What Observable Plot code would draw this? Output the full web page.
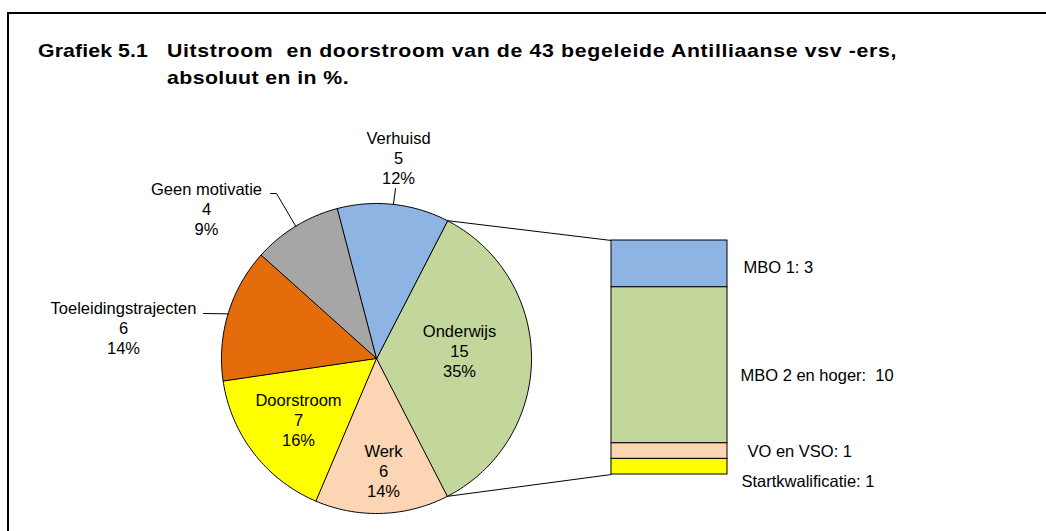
<!DOCTYPE html>
<html><head><meta charset="utf-8">
<script src="https://cdn.jsdelivr.net/npm/d3@7"></script>
<script src="https://cdn.jsdelivr.net/npm/@observablehq/plot@0.6"></script>
<style>
html,body{margin:0;padding:0;background:#fff;}
#wrap{position:relative;width:1046px;height:531px;overflow:hidden;font-family:"Liberation Sans",Arial,sans-serif;}
#frame{position:absolute;left:7px;top:12px;right:-10px;bottom:-10px;border-top:2px solid #000;border-left:2px solid #000;}
.t{position:absolute;font-weight:bold;font-size:19px;line-height:19px;white-space:pre;color:#000;z-index:2;transform-origin:0 0;}
#chart{position:absolute;left:0;top:0;z-index:1;}
#chart svg text{white-space:pre;}
</style></head><body>
<div id="wrap"><div id="frame"></div>
<div class="t" id="t1a" style="left:38px;top:41px">Grafiek 5.1</div>
<div class="t" id="t1b" style="left:167px;top:41px">Uitstroom  en doorstroom van de 43 begeleide Antilliaanse vsv -ers,</div>
<div class="t" id="t2" style="left:167px;top:68px">absoluut en in %.</div>
<div id="chart"></div></div>
<script>
// ---- data ----
const categories = ["Onderwijs", "Werk", "Doorstroom", "Toeleidingstrajecten", "Geen motivatie", "Verhuisd"];
const counts = [15, 6, 7, 6, 4, 5];
const sliceColors = ["#C3D69B", "#FCD5B5", "#FFFF00", "#E46C0A", "#A6A6A6", "#8EB4E3"];
const subCategories = ["MBO 1", "MBO 2 en hoger", "VO en VSO", "Startkwalificatie"];
const subCounts = [3, 10, 1, 1];
const subColors = ["#8EB4E3", "#C3D69B", "#FCD5B5", "#FFFF00"];
const subSeparators = [": ", ":  ", ": ", ": "];

// ---- layout ----
const W = 1046, H = 531;
const cx = 376, cy = 358, R = 155;
const barX1 = 611, barX2 = 727, barTop = 240, barBottom = 474;
const insideLabel = {"Onderwijs": [459, 350], "Werk": [383, 470], "Doorstroom": [298, 419]};
const outsideLabel = {"Verhuisd": [398, 157], "Geen motivatie": [206, 208], "Toeleidingstrajecten": [123, 327]};
const leaderStart = {"Verhuisd": [[395, 188]], "Geen motivatie": [[270, 193], [276, 193]], "Toeleidingstrajecten": [[203, 313]]};
const barLabelDx = [16, 13, 20, 14];
const barLabelDy = [3.5, 10, 1, 15.5];
const FS = 16.5;

const total = d3.sum(counts);
const span0 = counts[0] / total * 2 * Math.PI;
const start0 = Math.PI / 2 - span0 / 2;
const arcs = d3.pie().sort(null).startAngle(start0).endAngle(start0 + 2 * Math.PI)(counts);
const pt = (a, r) => [cx + r * Math.sin(a), cy - r * Math.cos(a)];

const slicePts = [];
arcs.forEach((a, i) => {
  const name = categories[i], color = sliceColors[i];
  slicePts.push({name, color, x: cx, y: cy});
  const n = Math.max(2, Math.ceil((a.endAngle - a.startAngle) * 180 / Math.PI));
  for (let k = 0; k <= n; k++) {
    const ang = a.startAngle + (a.endAngle - a.startAngle) * k / n;
    const [x, y] = pt(ang, R);
    slicePts.push({name, color, x, y});
  }
});

const pct = v => Math.round(v / total * 100) + "%";
const labels = [];
const leaders = [];
arcs.forEach((a, i) => {
  const name = categories[i];
  const text = `${name}\n${counts[i]}\n${pct(counts[i])}`;
  if (insideLabel[name]) labels.push({x: insideLabel[name][0], y: insideLabel[name][1], text});
  if (outsideLabel[name]) {
    labels.push({x: outsideLabel[name][0], y: outsideLabel[name][1], text});
    const mid = (a.startAngle + a.endAngle) / 2;
    leaderStart[name].forEach(([x, y]) => leaders.push({name, x, y}));
    const [ex, ey] = pt(mid, R);
    leaders.push({name, x: ex, y: ey});
  }
});

const unit = (barBottom - barTop) / d3.sum(subCounts);
let acc = 0;
const barRects = subCategories.map((c, i) => {
  const y1 = barTop + acc * unit;
  acc += subCounts[i];
  const y2 = barTop + acc * unit;
  return {name: c, color: subColors[i], y1, y2,
          lx: barX2 + barLabelDx[i], ly: (y1 + y2) / 2 + barLabelDy[i],
          label: c + subSeparators[i] + subCounts[i]};
});

const a0 = pt(arcs[0].startAngle, R), a1 = pt(arcs[0].endAngle, R);
const connectors = [
  {x1: a0[0], y1: a0[1], x2: barX1, y2: barTop},
  {x1: a1[0], y1: a1[1], x2: barX1, y2: barBottom}
];

const chart = Plot.plot({
  width: W, height: H,
  marginTop: 0, marginRight: 0, marginBottom: 0, marginLeft: 0,
  x: {domain: [0, W], range: [0, W], axis: null},
  y: {domain: [0, H], range: [0, H], axis: null},
  color: {type: "identity"},
  style: {background: "transparent", fontFamily: "'Liberation Sans', Arial, sans-serif", color: "#000"},
  marks: [
    Plot.link(connectors, {x1: "x1", y1: "y1", x2: "x2", y2: "y2", stroke: "#000", strokeWidth: 1}),
    Plot.line(slicePts, {x: "x", y: "y", z: "name", fill: "color", stroke: "#000", strokeWidth: 1, curve: "linear-closed"}),
    Plot.rect(barRects, {x1: () => barX1, x2: () => barX2, y1: "y1", y2: "y2", fill: "color", stroke: "#000", strokeWidth: 1}),
    Plot.line(leaders, {x: "x", y: "y", z: "name", stroke: "#000", strokeWidth: 1}),
    Plot.text(labels, {x: "x", y: "y", text: "text", textAnchor: "middle", fontSize: FS, lineHeight: 1.2, fill: "#000"}),
    Plot.text(barRects, {x: "lx", y: "ly", text: "label", textAnchor: "start", fontSize: FS, fill: "#000"})
  ]
});
document.getElementById("chart").appendChild(chart);

const SX = 1.12;
function fit(id, target) {
  const el = document.getElementById(id);
  el.style.transform = `scaleX(${SX})`;
  const n = el.textContent.length;
  const w = el.getBoundingClientRect().width;
  el.style.letterSpacing = ((target - w) / SX / n) + "px";
}
fit("t1a", 110); fit("t1b", 730); fit("t2", 182);
</script>
</body></html>
